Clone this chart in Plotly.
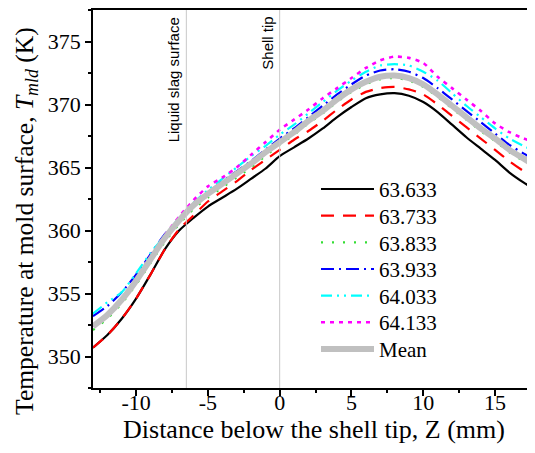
"""
Mold surface temperature below the shell tip for several casting speeds.
"""

import plotly.graph_objects as go

distance = list(range(-13, 19))

t_63633 = [350.7, 351.7, 353.0, 354.6, 356.5, 358.5, 360.0, 361.0, 361.9, 362.6, 363.3,
           364.1, 364.9, 365.9, 366.6, 367.3, 368.1, 369.0, 369.8, 370.5, 370.8, 370.9,
           370.7, 370.2, 369.4, 368.4, 367.4, 366.5, 365.6, 364.6, 363.8, 363.1]
t_63733 = [350.7, 351.7, 353.0, 354.6, 356.5, 358.5, 360.1, 361.2, 362.3, 363.1, 363.9,
           364.8, 365.6, 366.4, 367.2, 367.9, 368.7, 369.6, 370.4, 371.0, 371.3, 371.4,
           371.2, 370.8, 370.0, 369.1, 368.2, 367.3, 366.4, 365.5, 364.7, 364.0]
t_63833 = [352.1, 353.0, 354.2, 355.7, 357.4, 359.1, 360.5, 361.7, 362.6, 363.4, 364.2,
           365.0, 365.9, 366.8, 367.6, 368.5, 369.3, 370.2, 371.0, 371.6, 372.0, 372.1,
           371.9, 371.4, 370.6, 369.7, 368.8, 367.9, 367.1, 366.2, 365.5, 364.8]
t_63933 = [353.2, 354.0, 355.1, 356.5, 358.1, 359.7, 360.9, 362.1, 363.0, 363.9, 364.7,
           365.5, 366.4, 367.3, 368.1, 369.0, 369.9, 370.8, 371.6, 372.3, 372.7, 372.8,
           372.6, 372.1, 371.3, 370.4, 369.5, 368.6, 367.7, 366.8, 366.1, 365.5]
t_64033 = [353.4, 354.3, 355.1, 356.6, 358.2, 359.6, 361.0, 362.2, 363.2, 364.1, 365.0,
           365.9, 366.7, 367.6, 368.4, 369.3, 370.2, 371.1, 371.9, 372.6, 373.1, 373.2,
           373.1, 372.6, 371.9, 370.9, 369.9, 369.0, 368.1, 367.3, 366.7, 366.2]
t_64133 = [352.4, 353.4, 354.6, 356.2, 357.9, 359.6, 361.1, 362.4, 363.5, 364.2, 365.0,
           366.0, 367.0, 368.0, 368.8, 369.6, 370.5, 371.3, 372.1, 372.9, 373.5, 373.8,
           373.7, 373.3, 372.2, 371.3, 370.4, 369.5, 368.5, 367.8, 367.3, 366.9]
t_mean = [352.4, 353.3, 354.5, 356.0, 357.7, 359.4, 360.8, 362.0, 362.9, 363.7, 364.5,
          365.3, 366.2, 367.0, 367.8, 368.7, 369.5, 370.4, 371.2, 371.8, 372.2, 372.3,
          372.1, 371.6, 370.8, 369.9, 369.0, 368.1, 367.3, 366.4, 365.7, 365.0]

series_names = ["63.633", "63.733", "63.833", "63.933", "64.033", "64.133", "Mean"]

x_tickvals = [-10, -5, 0, 5, 10, 15]
x_ticktext = ["-10", "-5", "0", "5", "10", "15"]
y_tickvals = [350, 355, 360, 365, 370, 375]
y_ticktext = ["350", "355", "360", "365", "370", "375"]

marker_lines = [-6.5, 0]
marker_labels = ["Liquid slag surface", "Shell tip"]

font_name = "Liberation Serif"

styles = [
    dict(color="black", width=2.2, dash="solid"),
    dict(color="#ff0000", width=2.2, dash="13px,9px"),
    dict(color="#33dd33", width=2.2, dash="2px,9px"),
    dict(color="#0000ff", width=2.2, dash="13px,5px,2px,5px"),
    dict(color="#00ffff", width=2.2, dash="11px,5px,2px,5px,2px,5px"),
    dict(color="#ff00ff", width=2.6, dash="4px,5px"),
    dict(color="#c0c0c0", width=6, dash="solid"),
]

# the page has an 8px body margin, so the figure is sized to fit the window
fig_w, fig_h = 527, 445
m_left, m_bottom = 85, 65
plot_h = fig_h - m_bottom

fig = go.Figure()
all_series = [t_63633, t_63733, t_63833, t_63933, t_64033, t_64133, t_mean]
legend_layout = {}
for i, (name, values, style) in enumerate(zip(series_names, all_series, styles)):
    legend_key = "legend" if i == 0 else f"legend{i + 1}"
    fig.add_trace(
        go.Scatter(
            x=distance,
            y=values,
            name=name,
            mode="lines",
            line=dict(shape="spline", smoothing=0.6, **style),
            legend=legend_key,
        )
    )
    # one legend per entry so the row spacing can follow the original
    legend_layout[legend_key] = dict(
        x=0.5045,
        y=1 - (180.3 + i * 26.8) / plot_h,
        xanchor="left",
        yanchor="middle",
        bgcolor="rgba(0,0,0,0)",
        font=dict(family=font_name, size=21, color="black"),
        itemwidth=53,
    )

# reference positions
for pos, label in zip(marker_lines, marker_labels):
    fig.add_vline(x=pos, line=dict(color="#c8c8c8", width=1))
    fig.add_annotation(
        x=pos,
        y=1,
        xref="x",
        yref="paper",
        text=label,
        textangle=-90,
        showarrow=False,
        xanchor="right",
        yanchor="top",
        xshift=-2,
        yshift=-5,
        font=dict(family="Liberation Sans Narrow, Liberation Sans", size=15, color="black"),
    )

# y title sits a bit below the middle of the axis in the original
fig.add_annotation(
    x=-85 / (fig_w - m_left),
    y=1 - 212 / plot_h,
    xref="paper",
    yref="paper",
    text="Temperature at mold surface, <i>T</i><sub><i>mld</i></sub> (K)",
    textangle=-90,
    showarrow=False,
    xanchor="left",
    yanchor="middle",
    font=dict(family=font_name, size=25.5, color="black"),
)

axis_common = dict(
    showline=True,
    linecolor="black",
    linewidth=1.5,
    ticks="outside",
    ticklen=6,
    tickwidth=1.5,
    tickcolor="black",
    showgrid=False,
    zeroline=False,
    tickfont=dict(family=font_name, size=22, color="black"),
)

fig.update_layout(
    width=fig_w,
    height=fig_h,
    margin=dict(l=m_left, r=0, t=0, b=m_bottom),
    plot_bgcolor="white",
    paper_bgcolor="white",
    font=dict(family=font_name, color="black"),
    xaxis=dict(
        range=[-13, 17.78],
        tickvals=x_tickvals,
        ticktext=x_ticktext,
        ticklabelstandoff=-12,
        mirror=True,
        minor=dict(dtick=2.5, ticks="outside", ticklen=3, tickwidth=1.5, tickcolor="black"),
        title=dict(
            text="Distance below the shell tip, Z (mm)",
            standoff=4,
            font=dict(family=font_name, size=26, color="black"),
        ),
        **axis_common,
    ),
    yaxis=dict(
        range=[347.5, 377.5],
        tickvals=y_tickvals,
        ticktext=y_ticktext,
        mirror=False,
        minor=dict(dtick=2.5, ticks="outside", ticklen=3, tickwidth=1.5, tickcolor="black"),
        **axis_common,
    ),
    showlegend=True,
    **legend_layout,
)

fig.write_html("out.html")
